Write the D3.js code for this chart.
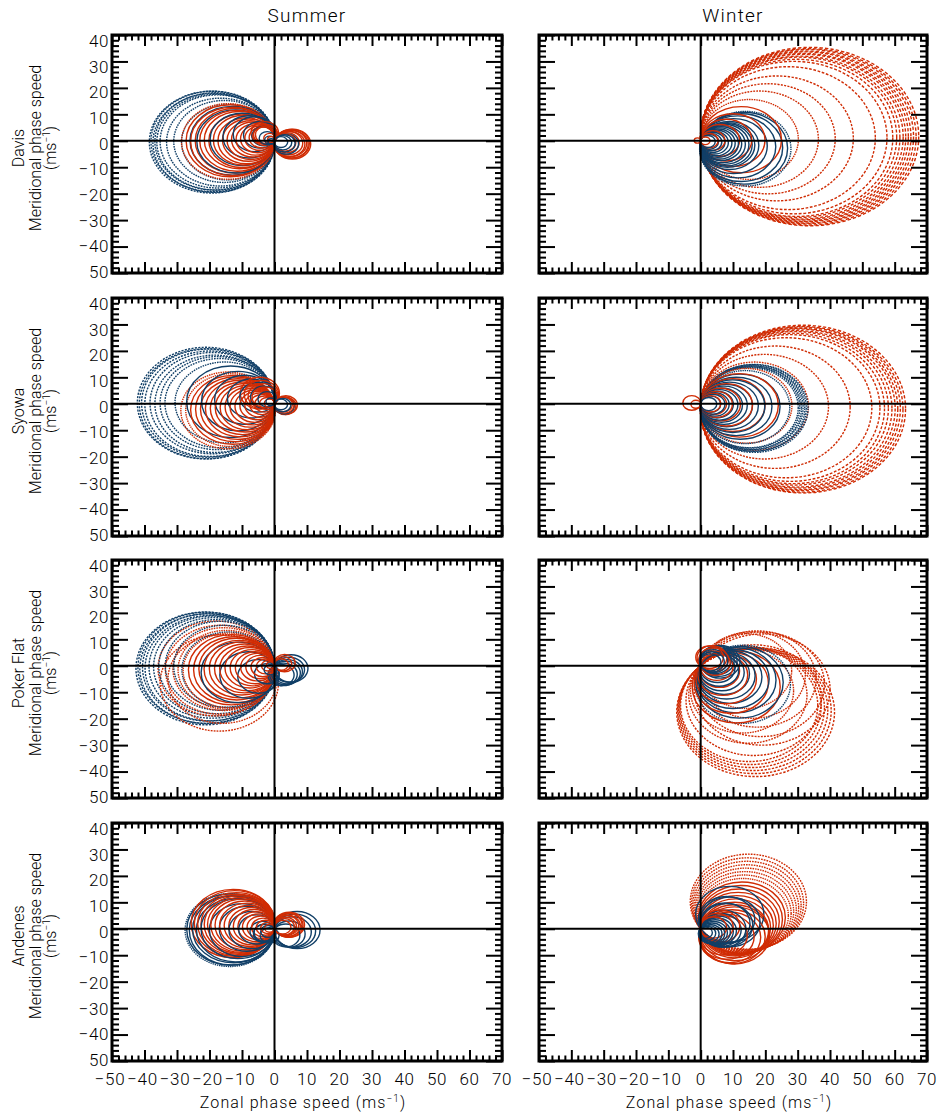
<!DOCTYPE html>
<html>
<head>
<meta charset="utf-8">
<script src="https://cdn.jsdelivr.net/npm/d3@7"></script>
<style>
  body { margin: 0; background: #fff; }
  text { font-family: Roboto, "Open Sans", "DejaVu Sans", sans-serif; font-weight: 300; fill: #000; }
</style>
</head>
<body>
<svg id="fig" width="943" height="1117"></svg>
<script>
// ---- labels -------------------------------------------------------------
const stations = ["Davis", "Syowa", "Poker Flat", "Andenes"];
const seasons = ["Summer", "Winter"];
const xTickValues = [-50, -40, -30, -20, -10, 0, 10, 20, 30, 40, 50, 60, 70];
const xTickLabels = ["\u221250", "\u221240", "\u221230", "\u221220", "\u221210", "0", "10", "20", "30", "40", "50", "60", "70"];
const yTickValues = [-50, -40, -30, -20, -10, 0, 10, 20, 30, 40];
const yTickLabels = ["50", "\u221240", "\u221230", "\u221220", "\u221210", "0", "10", "20", "30", "40"];

// ---- background wind vectors (u, v) in m/s, one blocking circle each ------
// each circle has its diameter from the origin to (u, v)
const davisSummerRed = [[-28.6,-0.5],[-27.2,0],[-25.8,-0.5],[-24.4,0],[-23,0],[-21.6,0.5],[-20.2,0],[-18.8,0.5],[-17.4,0],[-16,0.5],[-14.6,0.5],[-13.2,1],[-11.8,1],[-10.4,1.5],[-9,2],[-7.6,2.5],[-6.2,3.5],[-6,6],[-5.5,5],[-5,4.5],[-3,2],[-2,1],[11,-2.5],[10.6,-2.2],[10.2,-2.6],[9.8,-2],[9.2,-2.4],[8.6,-1.8],[7.5,-1.5],[6.5,-1.2]];
const davisSummerBlue = [[-38.5,-1],[-38,-0.5],[-37.4,-1.5],[-36.8,-0.5],[-36.2,-1],[-35.2,-0.5],[-33.2,-1],[-31,-0.5],[-28.6,-1],[-26,0],[-23.9,-0.5],[-19.8,1],[-15.7,3],[-12.2,5],[-9,4.5],[-6.5,3.5],[-4.5,2],[-3,0.5],[-2,-0.5],[7.2,-2.5],[6.2,-2],[5.2,-1.5],[4,-1]];
const davisWinterRed = [[67.4,3.2],[66.6,3],[65.8,3.2],[65,2.8],[64.2,3],[63.4,2.6],[62.6,2.8],[61.6,2.4],[60.6,2.6],[59.4,2.2],[57.6,2.4],[54,2],[47.2,1.8],[41.6,1.5],[36.4,1.2],[30.2,1],[25,0.8],[19.9,0.5],[15.8,0.5],[12,0.3],[7.5,0.2],[5.4,0.1],[2.9,0],[-2,0.2]];
const davisWinterBlue = [[27.6,-6],[26.6,-5.6],[25.1,-5.2],[23,-4.6],[20.4,-4],[17.8,-3.6],[16.6,-3.2],[15.8,-3],[14.8,-2.8],[13.7,-2.6],[12.6,-2.2],[11.6,-2],[10.6,-1.8],[9.6,-1.6],[8.5,-1.4],[7.5,-1.2],[6.5,-1],[5.5,-0.8],[4.5,-0.6]];
const syowaSummerRed = [[-28.6,-5],[-27.1,-4.8],[-25.6,-4.6],[-24.1,-4.2],[-22.6,-4],[-21.1,-3.6],[-19.6,-3.4],[-18.1,-3],[-16.6,-2.8],[-15.1,-2.4],[-13.6,-2.2],[-12.1,-1.8],[-10.6,-1.4],[-9.1,-1],[-7.6,-0.6],[-6.1,-0.2],[-4.6,0.2],[-3.1,0.4],[-9,8],[-8,7],[-7,6],[-6,5],[7,-1],[6.5,-1.5],[6,-1],[5.5,-0.5]];
const syowaSummerBlue = [[-42.2,0.5],[-41.6,0],[-40.9,0.5],[-39.9,0],[-38.3,0.5],[-36.8,0],[-35.2,0.5],[-33.7,0.5],[-30.6,1],[-27,1.5],[-22.4,2],[-18.3,3],[-14.2,4],[-10.1,5],[-6.5,5],[-4.5,3.5],[-2.4,1.5],[6,-1.5],[5,-1],[4,-0.5]];
const syowaWinterRed = [[63.3,-4],[62.5,-4.2],[61.7,-3.8],[60.9,-4],[60.1,-3.6],[59.1,-3.8],[58,-3.4],[56.8,-3.5],[55.4,-3.2],[52.9,-3],[46.2,-2.6],[39.5,-2.2],[33.3,-1.8],[28.2,-1.5],[24,-1.2],[19.9,-1],[16,-0.8],[12.3,-0.6],[9.8,-0.4],[8,-0.2],[6.2,0],[-5.5,0.6],[-3,-0.4]];
const syowaWinterBlue = [[33.1,-3.5],[32.6,-3.2],[32.1,-3.6],[31.6,-3],[31.1,-3.3],[30.6,-2.8],[30.1,-3],[27.5,-2.5],[24.5,-2.2],[22,-2],[19.8,-1.8],[17.8,-1.5],[16,-1.3],[14.4,-1.1],[12.9,-1],[11.5,-0.8],[10.1,-0.6],[8.8,-0.5],[7.5,-0.4],[6.2,-0.3],[5,-0.2]];
const pokerSummerRed = [[-35.8,-2],[-34,-13],[-33.5,-3],[-32,-10],[-31.2,-2.5],[-29.6,-3],[-28,-3.5],[-26.4,-3],[-24.8,-3],[-23.2,-2.5],[-21.6,-2.5],[-20,-2],[-18.4,-2],[-16.8,-2],[-15.2,-1.5],[-13.6,-1.5],[-12,-1.5],[-10.4,-1],[-8.8,-1],[-7.2,-1],[-5.6,-0.5],[-4,0],[-2.5,0.5],[6.2,2],[5.2,1.5],[4.2,1]];
const pokerSummerBlue = [[-42.6,-2],[-42,-1.5],[-41.4,-2.2],[-40.6,-1.2],[-39.8,-1.8],[-38.6,-1],[-37.2,-0.8],[-35.6,-0.6],[-33.6,0],[-31,-0.4],[-28.4,-3],[-22.3,-5],[-16.1,-7],[-9.9,-8],[-4.7,-6],[-2.5,-3],[10.2,-2],[9,-3],[8,-4.5],[7,-5.5],[5.5,-6.5],[4,-7]];
const pokerWinterRed = [[34,-35],[33.2,-34],[32.4,-33],[31.6,-32],[30.8,-31],[30,-30],[38,-18],[37,-14],[35,-10],[32,-7],[28,-4],[32.8,-26],[29.2,-22],[25.6,-19],[22,-16],[18.9,-13],[15.8,-10],[13.7,-7],[11.7,-4],[10,-1],[9,2],[8,4.5],[7,6],[5.5,6.5]];
const pokerWinterBlue = [[26,-14],[24,-12.5],[22,-11],[20,-10],[18,-8.5],[16,-7.5],[14.5,-6],[13,-5],[11.5,-3.5],[10.5,-2],[12,3],[11,3.5],[10,4],[9,4],[8,3.5],[7,3],[6,2.5]];
const andenesSummerRed = [[-25.5,4],[-24.5,4],[-23.5,3.6],[-22.5,3.4],[-21.5,3.2],[-20.5,3],[-19.5,2.8],[-18.2,2.6],[-16.8,2.4],[-15.4,2.2],[-14,2],[-12.6,1.8],[-11.2,1.6],[-9.8,1.4],[-8.4,1.2],[-7,1],[-5.6,0.8],[-4.2,0.6],[-3,0.4],[9,3],[8.6,2.6],[8.2,3],[7.8,2.2],[7.2,2.6],[6.6,2],[6,1.6],[5,1.2]];
const andenesSummerBlue = [[-27.5,-1],[-27,-0.5],[-26.2,-1.2],[-25.2,-0.5],[-24,-1],[-22.6,0],[-20,-1],[-17,0],[-14,-1],[-11,-0.5],[-7.4,-2],[-5.9,-3],[-4,-2],[-6,-3.5],[-3,-5],[14,-1],[12.6,-1.6],[11.2,-2.4],[9,-4],[7,-5]];
const andenesWinterRed = [[29.5,20.5],[29,19],[28.6,17.5],[28.2,16],[27.8,14.5],[27.3,13],[26.8,11.5],[26.2,10],[25.5,8.5],[24.8,7],[24,5.5],[23.2,4],[22.4,2.5],[21.6,1],[21,-1],[21,-3],[21,-5],[19.5,-6],[18,-6.5],[16,-6],[14,-5],[12,2],[10,1.5],[8,1]];
const andenesWinterBlue = [[18,11],[18,5.2],[16,7],[16,2.8],[15,4],[14,0],[12.5,-1],[11,-1.5],[10,-2],[9,-2.5],[8,-3],[7,-3.5],[6,-4],[5,-4],[4,-3.5],[3,-3]];

const panelData = [
  [davisSummerRed, davisSummerBlue, davisWinterRed, davisWinterBlue],
  [syowaSummerRed, syowaSummerBlue, syowaWinterRed, syowaWinterBlue],
  [pokerSummerRed, pokerSummerBlue, pokerWinterRed, pokerWinterBlue],
  [andenesSummerRed, andenesSummerBlue, andenesWinterRed, andenesWinterBlue]
];

// ---- layout -------------------------------------------------------------
const colBox = [{ x0: 112, x1: 502 }, { x0: 539, x1: 927 }];
const rowBox = [{ y0: 35, y1: 273 }, { y0: 298, y1: 536 }, { y0: 560, y1: 798 }, { y0: 823, y1: 1061 }];
const RED = "#d02c04";
const BLUE = "#113f67";

const svg = d3.select("#fig");

// column titles
seasons.forEach((s, c) => {
  svg.append("text")
    .attr("x", (colBox[c].x0 + colBox[c].x1) / 2)
    .attr("y", 22)
    .attr("text-anchor", "middle")
    .style("font-size", "19px")
    .style("letter-spacing", "1.2px")
    .text(s);
});

function ellipsePerimeter(a, b) {
  const h = ((a - b) * (a - b)) / ((a + b) * (a + b));
  return Math.PI * (a + b) * (1 + (3 * h) / (10 + Math.sqrt(4 - 3 * h)));
}

rowBox.forEach((rb, r) => {
  colBox.forEach((cb, c) => {
    const x = d3.scaleLinear().domain([-50, 70]).range([cb.x0, cb.x1]);
    const y = d3.scaleLinear().domain([-50, 40]).range([rb.y1, rb.y0]);
    const g = svg.append("g");
    const clipId = `clip-${r}-${c}`;
    g.append("clipPath").attr("id", clipId)
      .append("rect").attr("x", cb.x0).attr("y", rb.y0)
      .attr("width", cb.x1 - cb.x0).attr("height", rb.y1 - rb.y0);

    // blocking circles, largest first so small ones stay on top
    const reds = panelData[r][c * 2].map(d => ({ u: d[0], v: d[1], col: RED }));
    const blues = panelData[r][c * 2 + 1].map(d => ({ u: d[0], v: d[1], col: BLUE }));
    const circles = reds.concat(blues).map(d => {
      const cx = d.u / 2, cy = d.v / 2, rad = Math.hypot(d.u, d.v) / 2;
      const px = x(cx), py = y(cy);
      const rx = x(cx + rad) - px, ry = py - y(cy + rad);
      return { col: d.col, px, py, rx, ry, rad };
    }).sort((a, b) => b.rad - a.rad);

    // every circle is traced with the same number of short strokes,
    // so large circles break up into dashes and small ones look solid
    const plot = g.append("g").attr("clip-path", `url(#${clipId})`);
    plot.selectAll("ellipse").data(circles).join("ellipse")
      .attr("cx", d => d.px).attr("cy", d => d.py)
      .attr("rx", d => d.rx).attr("ry", d => d.ry)
      .attr("fill", "none")
      .attr("stroke", d => d.col)
      .attr("stroke-width", 1.4)
      .attr("stroke-dasharray", d => {
        const period = ellipsePerimeter(d.rx, d.ry) / 115;
        if (period < 2.2) return null;
        const dash = 0.62 * period;
        return `${dash.toFixed(2)} ${(period - dash).toFixed(2)}`;
      });

    // zero lines
    g.append("line").attr("x1", cb.x0).attr("x2", cb.x1).attr("y1", y(0)).attr("y2", y(0))
      .attr("stroke", "#000").attr("stroke-width", 2);
    g.append("line").attr("x1", x(0)).attr("x2", x(0)).attr("y1", rb.y0).attr("y2", rb.y1)
      .attr("stroke", "#000").attr("stroke-width", 2);

    // tick marks on all four sides, pointing inward
    const xMinor = d3.range(-50, 71, 2).filter(v => v % 10 !== 0);
    const yMinor = d3.range(-50, 41, 2).filter(v => v % 10 !== 0);
    const tickStyle = sel => sel.call(s => s.select(".domain").remove())
      .call(s => s.selectAll("line").attr("stroke-width", 2))
      .call(s => s.selectAll("text").remove());
    g.append("g").attr("transform", `translate(0,${rb.y1})`)
      .call(d3.axisBottom(x).tickValues(xTickValues).tickSize(-11)).call(tickStyle);
    g.append("g").attr("transform", `translate(0,${rb.y1})`)
      .call(d3.axisBottom(x).tickValues(xMinor).tickSize(-5.5)).call(tickStyle);
    g.append("g").attr("transform", `translate(0,${rb.y0})`)
      .call(d3.axisTop(x).tickValues(xTickValues).tickSize(-11)).call(tickStyle);
    g.append("g").attr("transform", `translate(0,${rb.y0})`)
      .call(d3.axisTop(x).tickValues(xMinor).tickSize(-5.5)).call(tickStyle);
    g.append("g").attr("transform", `translate(${cb.x0},0)`)
      .call(d3.axisLeft(y).tickValues(yTickValues).tickSize(-16)).call(tickStyle);
    g.append("g").attr("transform", `translate(${cb.x0},0)`)
      .call(d3.axisLeft(y).tickValues(yMinor).tickSize(-7)).call(tickStyle);
    g.append("g").attr("transform", `translate(${cb.x1},0)`)
      .call(d3.axisRight(y).tickValues(yTickValues).tickSize(-16)).call(tickStyle);
    g.append("g").attr("transform", `translate(${cb.x1},0)`)
      .call(d3.axisRight(y).tickValues(yMinor).tickSize(-7)).call(tickStyle);

    // frame
    g.append("rect").attr("x", cb.x0).attr("y", rb.y0)
      .attr("width", cb.x1 - cb.x0).attr("height", rb.y1 - rb.y0)
      .attr("fill", "none").attr("stroke", "#000").attr("stroke-width", 3);

    // y tick labels on the left column
    if (c === 0) {
      const yl = d3.scaleLinear().domain([-50, 40]).range([rb.y1 - 1, rb.y0 + 6]);
      g.selectAll("text.yl").data(yTickValues).join("text")
        .attr("class", "yl")
        .attr("x", cb.x0 - 3)
        .attr("y", v => yl(v))
        .attr("dy", "0.36em")
        .attr("text-anchor", "end")
        .style("font-size", "17px")
        .style("letter-spacing", "0.6px")
        .text((v, i) => yTickLabels[i]);

      const cy = (rb.y0 + rb.y1) / 2 - 6;
      const t = g.append("text")
        .attr("transform", `translate(0,${cy}) rotate(-90)`)
        .attr("text-anchor", "middle")
        .style("font-size", "16px");
      t.append("tspan").attr("x", 0).attr("y", 24).text(stations[r]);
      t.append("tspan").attr("x", 0).attr("y", 41).text("Meridional phase speed");
      const t3 = t.append("tspan").attr("x", 0).attr("y", 56);
      t3.append("tspan").text("(ms");
      t3.append("tspan").attr("dy", -6).style("font-size", "10px").text("\u22121");
      t3.append("tspan").attr("dy", 6).text(")");
    }

    // x tick labels and title under the bottom row
    if (r === rowBox.length - 1) {
      g.selectAll("text.xl").data(xTickValues).join("text")
        .attr("class", "xl")
        .attr("x", v => x(v) - (v < 0 ? 2 : 0))
        .attr("y", rb.y1 + 24)
        .attr("text-anchor", "middle")
        .style("font-size", "17px")
        .style("letter-spacing", "0.6px")
        .text((v, i) => xTickLabels[i]);
      const xt = g.append("text")
        .attr("x", (cb.x0 + cb.x1) / 2 - 4)
        .attr("y", rb.y1 + 47)
        .attr("text-anchor", "middle")
        .style("font-size", "16px")
        .style("letter-spacing", "1.1px");
      xt.append("tspan").text("Zonal phase speed (ms");
      xt.append("tspan").attr("dy", -6).style("font-size", "10px").text("\u22121");
      xt.append("tspan").attr("dy", 6).text(")");
    }
  });
});
</script>
</body>
</html>
